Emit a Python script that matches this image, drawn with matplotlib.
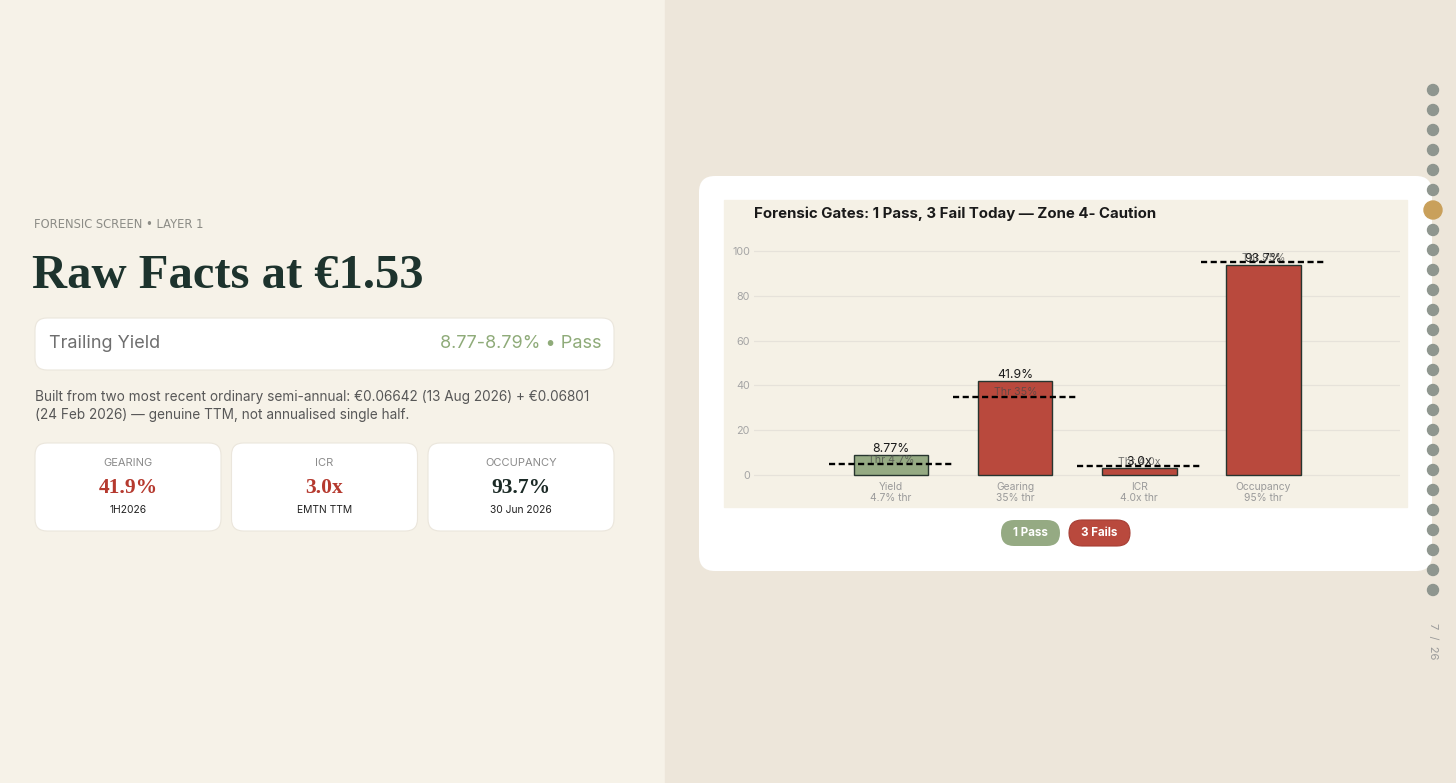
import numpy as np
import matplotlib.pyplot as plt
from matplotlib.patches import FancyBboxPatch, Rectangle, Circle

plt.rcParams['font.family'] = ['Inter', 'DejaVu Sans']

# chart data
gates = ['Yield', 'Gearing', 'ICR', 'Occupancy']
values = [8.77, 41.9, 3.0, 93.7]
thresholds = [4.7, 35, 4.0, 95]
value_labels = ['8.77%', '41.9%', '3.0x', '93.7%']
thr_labels = ['Thr 4.7%', 'Thr 35%', 'Thr 4.0x', 'Thr 95%']
thr_sub = ['4.7% thr', '35% thr', '4.0x thr', '95% thr']
passed = [True, False, False, False]

# left panel facts
metric_names = ['GEARING', 'ICR', 'OCCUPANCY']
metric_values = ['41.9%', '3.0x', '93.7%']
metric_notes = ['1H2026', 'EMTN TTM', '30 Jun 2026']
metric_bad = [True, True, False]

W, H = 1456, 783
GREEN = '#95aa83'
RED = '#b9493d'
SERIF = ['Liberation Serif', 'DejaVu Serif']

fig = plt.figure(figsize=(W / 100, H / 100), dpi=100)

# background canvas in pixel units
bg = fig.add_axes([0, 0, 1, 1], zorder=0)
bg.set_xlim(0, W)
bg.set_ylim(H, 0)
bg.axis('off')

bg.add_patch(Rectangle((0, 0), 665, H, color='#f6f2e8', zorder=0))
bg.add_patch(Rectangle((665, 0), W - 665, H, color='#ede6da', zorder=0))


def rbox(x, y, w, h, r, fc, ec='none', z=1):
    bg.add_patch(FancyBboxPatch((x, y), w, h, boxstyle=f'round,pad=0,rounding_size={r}',
                                fc=fc, ec=ec, lw=0.8, zorder=z))


# ---- left panel ----
bg.text(34, 224, 'FORENSIC SCREEN \u2022 LAYER 1', fontsize=8.3, color='#8c8c86',
        family=['DejaVu Sans'], va='center', ha='left')
bg.text(32, 288, 'Raw Facts at \u20ac1.53', fontsize=35, fontweight='bold', family=SERIF,
        color='#1d332d', va='baseline', ha='left')

rbox(35, 318, 579, 52, 12, 'white', '#ebe6dc')
bg.text(49, 344, 'Trailing Yield', fontsize=13, color='#6e6e6e', va='center')
bg.text(601, 344, '8.77-8.79% \u2022 Pass', fontsize=13, color='#8fab79', va='center', ha='right')

bg.text(35, 397, 'Built from two most recent ordinary semi-annual: \u20ac0.06642 (13 Aug 2026) + \u20ac0.06801',
        fontsize=9.8, color='#575757', va='center')
bg.text(35, 415, '(24 Feb 2026) \u2014 genuine TTM, not annualised single half.',
        fontsize=9.8, color='#575757', va='center')

for i, (nm, val, note, bad) in enumerate(zip(metric_names, metric_values, metric_notes, metric_bad)):
    x0 = 35 + i * 196.5
    rbox(x0, 443, 186, 88, 12, 'white', '#ebe6dc')
    cx = x0 + 93
    bg.text(cx, 463, nm, fontsize=8, color='#8a8a8a', ha='center', va='center')
    bg.text(cx, 488, val, fontsize=15.5, fontweight='bold', family=SERIF,
            color='#b5392e' if bad else '#1b2a26', ha='center', va='center')
    bg.text(cx, 510, note, fontsize=7.4, color='#222222', ha='center', va='center')

# ---- right panel ----
rbox(699, 176, 733, 395, 16, 'white', 'none', z=1)
bg.add_patch(Rectangle((724, 200), 683, 307, color='#f5f1e6', zorder=2))
bg.text(754, 214, 'Forensic Gates: 1 Pass, 3 Fail Today \u2014 Zone 4- Caution',
        fontsize=10.8, fontweight='bold', color='#1a1a1a', va='center', zorder=3)

# legend pills
rbox(1001, 520, 59, 26, 13, GREEN, z=3)
bg.text(1030.5, 533, '1 Pass', fontsize=8.3, fontweight='bold', color='white',
        ha='center', va='center', zorder=4)
rbox(1069, 520, 61, 26, 13, RED, '#a63d33', z=3)
bg.text(1099.5, 533, '3 Fails', fontsize=8.3, fontweight='bold', color='white',
        ha='center', va='center', zorder=4)

# slide navigation dots
for k, yy in enumerate(np.arange(90, 591, 20)):
    if k == 6:
        bg.add_patch(Circle((1433, yy), 9, color='#c9a05b', zorder=5))
    else:
        bg.add_patch(Circle((1433, yy), 5.5, color='#8f968f', zorder=5))
bg.text(1433, 641, '7  /  26', fontsize=8, color='#9a9a9a', rotation=-90,
        ha='center', va='center')

# ---- chart ----
px_per_unit = 2.24
y0_px = 475
ylo, yhi = -2, 105
xl, xr = 754, 1400
bottom_px = y0_px - ylo * px_per_unit
top_px = y0_px - yhi * px_per_unit
ax = fig.add_axes([xl / W, 1 - bottom_px / H, (xr - xl) / W, (bottom_px - top_px) / H], zorder=3)
ax.set_facecolor('none')
ax.set_xlim(-1.105, 4.1)
ax.set_ylim(ylo, yhi)

x = np.arange(len(gates))
colors = [GREEN if p else RED for p in passed]
ax.bar(x, values, width=0.6, color=colors, edgecolor='#27352f', linewidth=1.0, zorder=2)

for xi, v, t, vl, tl in zip(x, values, thresholds, value_labels, thr_labels):
    ax.hlines(t, xi - 0.5, xi + 0.5, colors='black', linestyles=(0, (2.6, 1.5)),
              linewidth=1.7, zorder=4)
    ax.text(xi, v + 0.2, vl, ha='center', va='bottom', fontsize=8.8, color='#1a1a1a', zorder=5)
    ax.text(xi, t + 1.9, tl, ha='center', va='center', fontsize=7.6, color='#4a4a4a',
            alpha=0.75, zorder=5)

ax.set_yticks(np.arange(0, 101, 20))
ax.set_xticks(x)
ax.set_xticklabels([f'{g}\n{s}' for g, s in zip(gates, thr_sub)], fontsize=7.4,
                   color='#9a9a9a', linespacing=1.15)
ax.tick_params(axis='y', labelsize=7.8, labelcolor='#a5a5a5', length=0, pad=3)
ax.tick_params(axis='x', length=0, pad=2)
ax.grid(axis='y', color='#e6e2da', linewidth=0.9, zorder=0)
ax.set_axisbelow(True)
for s in ax.spines.values():
    s.set_visible(False)

fig.savefig('out.png', dpi=100)
